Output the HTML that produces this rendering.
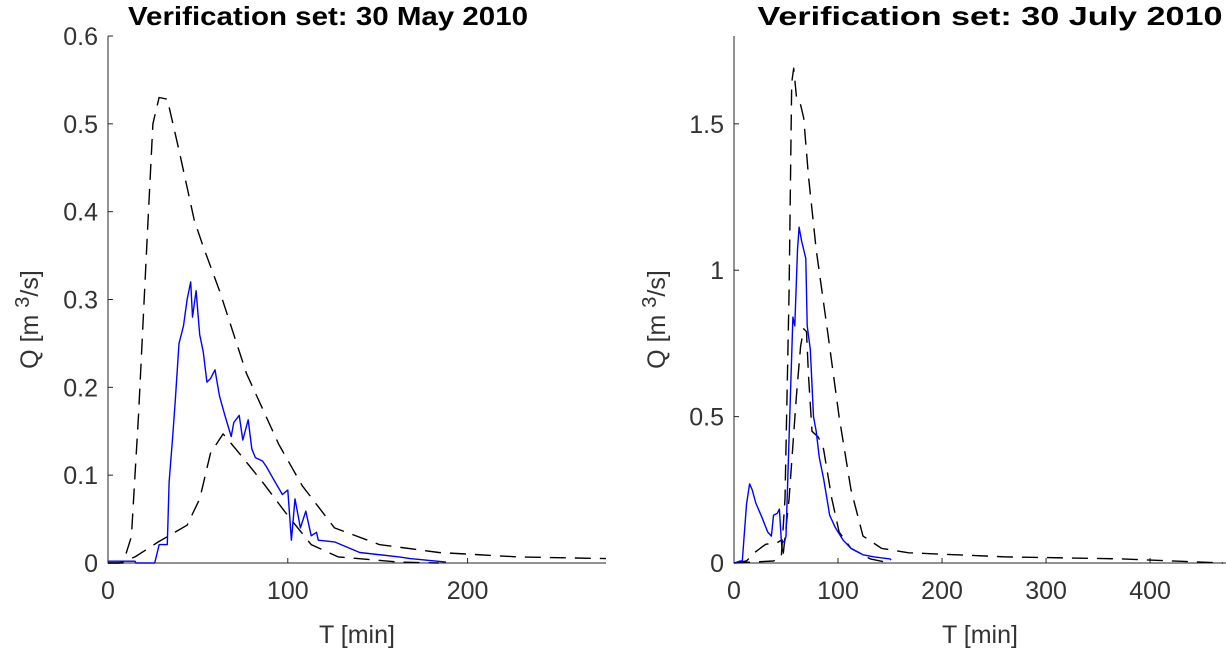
<!DOCTYPE html>
<html><head><meta charset="utf-8">
<style>
html,body{margin:0;padding:0;background:#fff;}
svg{display:block;font-family:"Liberation Sans",sans-serif;}
</style></head>
<body>
<svg id="chart" width="1226" height="651" viewBox="0 0 1226 651" xmlns="http://www.w3.org/2000/svg">
<text x="328" y="25" text-anchor="middle" font-size="26" font-weight="bold" fill="#000" textLength="400" lengthAdjust="spacingAndGlyphs">Verification set: 30 May 2010</text>
<text x="990" y="25" text-anchor="middle" font-size="26" font-weight="bold" fill="#000" textLength="465" lengthAdjust="spacingAndGlyphs">Verification set: 30 July 2010</text>
</svg>
<script>
// ---- Left panel data (30 May 2010) ----
const leftUpperT = [0,8.4,13,17,22,25,28.4,33,39.5,48,53,62,77,95,108,126,151,184,228,277];
const leftUpperQ = [0,0,0.03,0.17,0.38,0.5,0.53,0.528,0.47,0.39,0.36,0.31,0.216,0.135,0.088,0.04,0.021,0.012,0.007,0.005];
const leftLowerT = [0,6,15,28,44,51,57,64,71,86,100,113,128,162,184];
const leftLowerQ = [0,0,0.007,0.024,0.043,0.073,0.125,0.147,0.13,0.092,0.054,0.021,0.007,0.001,0];
const leftObsT = [0,15,15.5,26,28.5,33,34,36,37.5,39.5,42,44,46,47,49,51,53,55,57,59.5,62,65,68.5,70,73,75,78,80,82,86,88,93,97,100,102,104,107,110,113,116,117,126,140,162,168,188];
const leftObsQ = [0.002,0.002,0,0,0.021,0.021,0.092,0.144,0.187,0.25,0.27,0.3,0.32,0.28,0.31,0.26,0.24,0.206,0.21,0.22,0.19,0.168,0.144,0.16,0.168,0.14,0.163,0.13,0.12,0.116,0.11,0.092,0.078,0.083,0.026,0.073,0.04,0.059,0.031,0.035,0.026,0.024,0.012,0.007,0.005,0.001];
const leftXTicks = [0,100,200];
const leftYTicks = [0,0.1,0.2,0.3,0.4,0.5,0.6];
const leftYLabels = ["0","0.1","0.2","0.3","0.4","0.5","0.6"];

// ---- Right panel data (30 July 2010) ----
const rightUpperT = [0,38,45.5,49,53,55.5,57.4,60.4,64,67,71.6,79,90,101,112.5,124,142,168,262,373,470];
const rightUpperQ = [0,0.007,0.02,0.22,0.93,1.64,1.69,1.58,1.565,1.52,1.32,1.07,0.79,0.5,0.25,0.092,0.05,0.035,0.021,0.014,0];
const rightLowerT = [0,12,19.4,30.5,41.7,45.5,47,53,60,64,67,69.7,71.6,75,81,86,94,101,112.5,131,150];
const rightLowerQ = [0,0.007,0.035,0.064,0.07,0.078,0.02,0.22,0.57,0.74,0.8,0.79,0.64,0.45,0.43,0.39,0.22,0.106,0.05,0.014,0];
const rightObsT = [0,6,8,12,15,17.5,21,26.8,32.4,36,38,41.7,43.6,45.5,48.5,50,53,56.6,58.5,61,62.6,65,69,70.4,73.4,76.4,79,82,86,92,97.6,105,112.5,124,135,150,151];
const rightObsQ = [0,0.007,0.007,0.2,0.27,0.25,0.205,0.156,0.106,0.092,0.163,0.17,0.184,0.078,0.07,0.092,0.43,0.84,0.81,1.07,1.147,1.1,1.04,0.81,0.73,0.5,0.45,0.36,0.29,0.163,0.12,0.078,0.05,0.028,0.021,0.014,0.01];
const rightXTicks = [0,100,200,300,400];
const rightYTicks = [0,0.5,1,1.5];
const rightYLabels = ["0","0.5","1","1.5"];

const NS = "http://www.w3.org/2000/svg";
const svg = document.getElementById('chart');
function mk(tag, attrs){ const e=document.createElementNS(NS,tag); for(const k in attrs) e.setAttribute(k,attrs[k]); svg.appendChild(e); return e; }

function panel(p){
  const sx = v => p.x0 + v / p.xmax * (p.x1 - p.x0);
  const sy = v => p.y0 - v / p.ymax * (p.y0 - p.y1);
  const ax = mk('path',{d:`M${p.x0},${p.y1} L${p.x0},${p.y0} L${p.x1},${p.y0}`,fill:'none',stroke:'#262626','stroke-width':1});
  
  
  p.xt.forEach(t=>{
    const x=sx(t);
    const tk=mk('line',{x1:x,x2:x,y1:p.y0,y2:p.y0-5,stroke:'#262626'});
    
    
    const tl=mk('text',{x:x,y:p.y0+36,'text-anchor':'middle','font-size':25,fill:'#333'});
    tl.textContent=String(t);
    
    
  });
  p.yt.forEach((t,i)=>{
    const y=sy(t);
    const tk=mk('line',{x1:p.x0,x2:p.x0+5,y1:y,y2:y,stroke:'#262626'});
    
    
    const tl=mk('text',{x:p.x0-10,y:y+9,'text-anchor':'end','font-size':25,fill:'#333'});
    tl.textContent=p.yl[i];
    
    
  });
  const xl=mk('text',{x:(p.x0+p.x1)/2,y:643,'text-anchor':'middle','font-size':25,fill:'#333'});
  xl.textContent='T [min]';
  
  
  const yl=mk('text',{x:0,y:0,'text-anchor':'middle','font-size':25,fill:'#333',transform:`translate(${p.ylx},${(p.y0+p.y1)/2+20}) rotate(-90)`});
  yl.innerHTML='Q [m <tspan dy="-9" font-size="20">3</tspan><tspan dy="9">/s]</tspan>';
  
  
  const line=(T,Q,dash,color,name)=>{
    const d=T.map((t,i)=>(i?'L':'M')+sx(t).toFixed(1)+','+sy(Q[i]).toFixed(1)).join(' ');
    const e=mk('path',{d:d,fill:'none',stroke:color,'stroke-width':1.4,'stroke-dasharray':dash,'stroke-linejoin':'round'});
    
    
  };
  line(p.uT,p.uQ,'16,9','#000',p.id+'-upper-bound');
  line(p.lT,p.lQ,'16,9','#000',p.id+'-lower-bound');
  line(p.oT,p.oQ,'none','#0000ff',p.id+'-observed');
}
panel({id:'left',x0:108,x1:606,y0:563,y1:36,xmax:277,ymax:0.6,xt:leftXTicks,yt:leftYTicks,yl:leftYLabels,ylx:38,
  uT:leftUpperT,uQ:leftUpperQ,lT:leftLowerT,lQ:leftLowerQ,oT:leftObsT,oQ:leftObsQ});
panel({id:'right',x0:734,x1:1226,y0:563,y1:36,xmax:473,ymax:1.8,xt:rightXTicks,yt:rightYTicks,yl:rightYLabels,ylx:665,
  uT:rightUpperT,uQ:rightUpperQ,lT:rightLowerT,lQ:rightLowerQ,oT:rightObsT,oQ:rightObsQ});
</script>
</body></html>
